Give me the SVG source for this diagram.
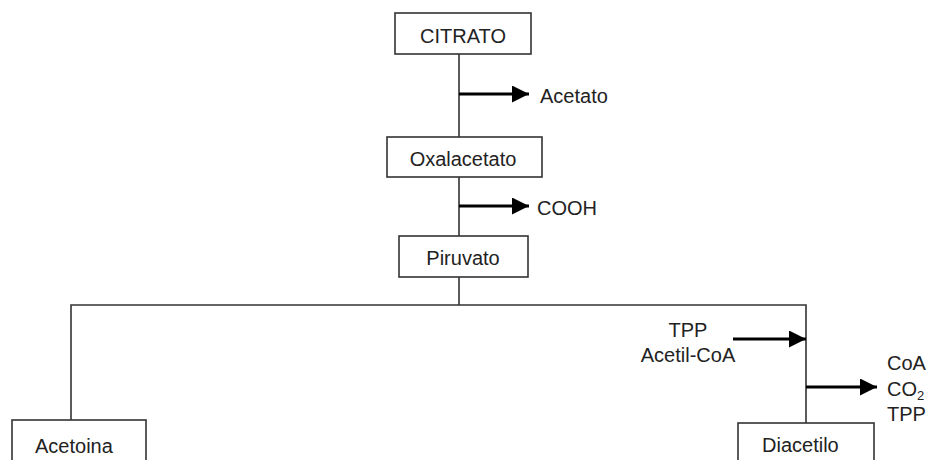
<svg xmlns="http://www.w3.org/2000/svg" width="927" height="460" viewBox="0 0 927 460">
<style>
text{font-family:"Liberation Sans",Arial,sans-serif;font-size:20px;fill:#222}
.box{fill:#fff;stroke:#333;stroke-width:1.6}
.ln{fill:none;stroke:#333;stroke-width:1.6}
.ar{fill:none;stroke:#000;stroke-width:3;marker-end:url(#ah)}
</style>
<defs>
<marker id="ah" markerUnits="userSpaceOnUse" markerWidth="18" markerHeight="18" refX="17" refY="8.5" orient="auto">
<path d="M0,0 L17,8.5 L0,17 Z" fill="#000"/>
</marker>
</defs>
<g id="connectors">
<path class="ln" d="M459,54 V137 M459,177 V236 M459,277 V305 M71,420 V305 H806 V423"/>
<path class="ar" d="M459,94 H529"/>
<path class="ar" d="M459,206 H529"/>
<path class="ar" d="M733,339 H806"/>
<path class="ar" d="M806,387 H877"/>
</g>
<g id="citrato"><rect class="box" x="395" y="13" width="136" height="41"/><text x="463" y="43" text-anchor="middle">CITRATO</text></g>
<g id="oxalacetato"><rect class="box" x="387" y="137" width="155" height="40"/><text x="463" y="166" text-anchor="middle">Oxalacetato</text></g>
<g id="piruvato"><rect class="box" x="399" y="236" width="129" height="41"/><text x="463" y="265" text-anchor="middle">Piruvato</text></g>
<g id="acetoina"><rect class="box" x="12" y="420" width="134" height="50"/><text x="35" y="453">Acetoina</text></g>
<g id="diacetilo"><rect class="box" x="738" y="423" width="136" height="50"/><text x="762" y="452">Diacetilo</text></g>
<g id="labels">
<text x="540" y="103">Acetato</text>
<text x="537" y="215">COOH</text>
<text x="688" y="337" text-anchor="middle">TPP</text>
<text x="688" y="362" text-anchor="middle">Acetil-CoA</text>
<text x="887" y="370">CoA</text>
<text x="887" y="396">CO<tspan font-size="13" dy="4">2</tspan></text>
<text x="887" y="421">TPP</text>
</g>
</svg>
